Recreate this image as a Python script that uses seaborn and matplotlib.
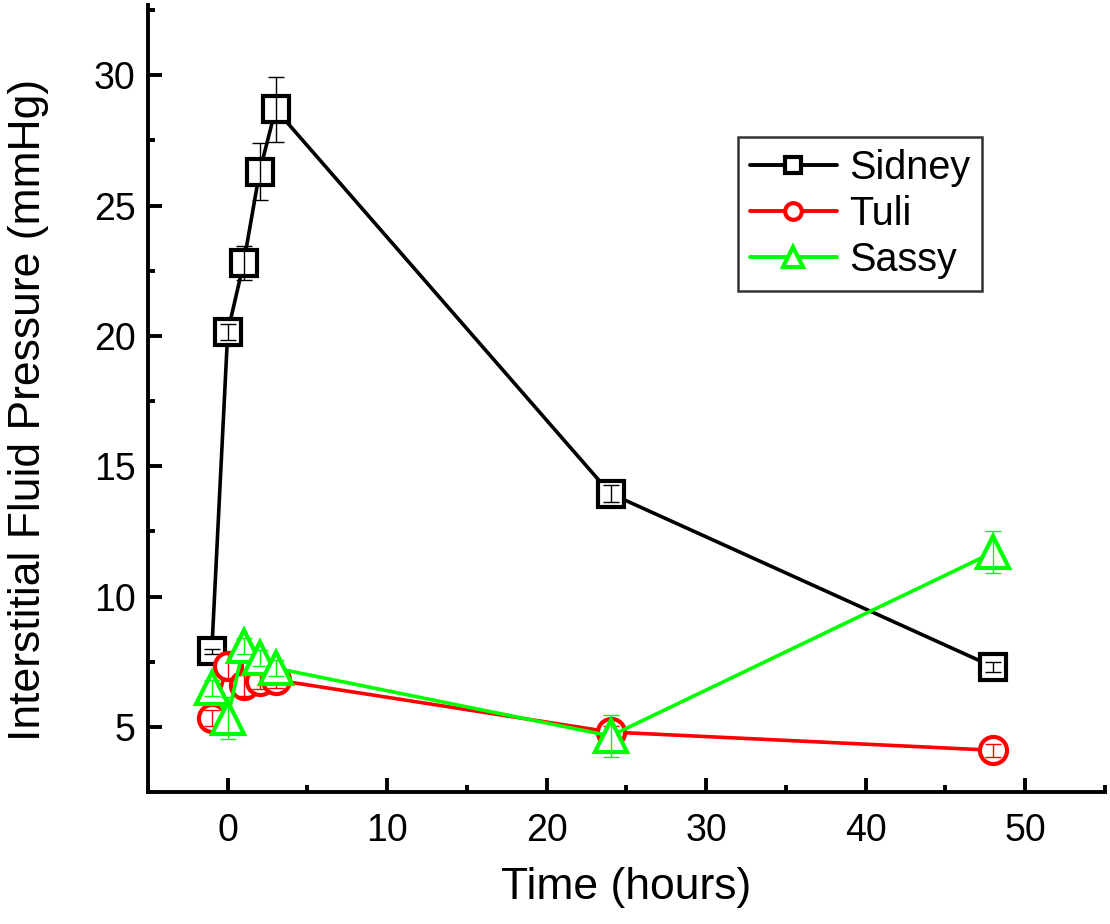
import matplotlib
matplotlib.use("Agg")
import matplotlib.pyplot as plt
import seaborn as sns
import pandas as pd
import numpy as np
from matplotlib.ticker import MultipleLocator

time_h = [-1, 0, 1, 2, 3, 24, 48]
sidney = [7.9, 20.15, 22.8, 26.3, 28.7, 13.95, 7.3]
sidney_err = [0.1, 0.3, 0.65, 1.1, 1.25, 0.33, 0.2]
tuli = [5.35, 7.35, 6.6, 6.75, 6.8, 4.8, 4.1]
tuli_err = [0.3, 0.5, 0.4, 0.3, 0.3, 0.25, 0.25]
sassy = [6.5, 5.35, 8.1, 7.65, 7.25, 4.65, 11.7]
sassy_err = [0.3, 0.8, 0.3, 0.3, 0.3, 0.8, 0.8]

series = [("Sidney", sidney, sidney_err, "black", "s", 18.5, 11),
          ("Tuli", tuli, tuli_err, "#FF0000", "o", 19.5, 12),
          ("Sassy", sassy, sassy_err, "#00FF00", "^", 23, 14)]

sns.set_theme(style="ticks")
plt.rcParams['font.family'] = ['Liberation Sans', 'DejaVu Sans']
for k in ["text.color", "axes.labelcolor", "xtick.color", "ytick.color",
          "axes.edgecolor"]:
    plt.rcParams[k] = "black"

fig = plt.figure(figsize=(11.1, 9.24), dpi=100)
ax = fig.add_axes([0.1333, 0.1429, 0.8622, 0.8517])

handles = []
for i, (name, vals, errs, col, mk, ms, lms) in enumerate(series):
    df = pd.DataFrame({"t": time_h, "v": vals})
    sns.lineplot(data=df, x="t", y="v", ax=ax, color=col, linewidth=2.6,
                 marker=mk, markersize=ms, markerfacecolor="white",
                 markeredgecolor=col, markeredgewidth=3.0, zorder=3 + i,
                 label=name, legend=False)
    ax.errorbar(time_h, vals, yerr=errs, fmt="none", ecolor=col,
                elinewidth=1.0, capsize=6, capthick=1.0, zorder=3.5 + i)
    h, = ax.plot([], [], color=col, linewidth=2.8, marker=mk,
                 markersize=lms, markerfacecolor="white",
                 markeredgecolor=col, markeredgewidth=3.0)
    handles.append(h)

ax.set_xlim(-5, 55)
ax.set_ylim(2.5, 32.7)
ax.xaxis.set_major_locator(MultipleLocator(10))
ax.xaxis.set_minor_locator(MultipleLocator(5))
ax.yaxis.set_major_locator(MultipleLocator(5))
ax.yaxis.set_minor_locator(MultipleLocator(2.5))
ax.set_yticks([5, 10, 15, 20, 25, 30])

for s in ["top", "right"]:
    ax.spines[s].set_visible(False)
for s in ["left", "bottom"]:
    ax.spines[s].set_linewidth(2.8)
    ax.spines[s].set_color("black")

ax.tick_params(axis="both", which="major", direction="in", length=10,
               width=2.8, labelsize=27, colors="black")
ax.tick_params(axis="both", which="minor", direction="in", length=5,
               width=2.8, colors="black")
ax.tick_params(axis="x", which="major", pad=15)
ax.tick_params(axis="y", which="major", pad=9)

ax.set_xlabel("Time (hours)", fontsize=32)
ax.set_ylabel("Interstitial Fluid Pressure (mmHg)", fontsize=32)
ax.xaxis.set_label_coords(0.4995, -0.122)
ax.xaxis.label.set_va("center")
ax.yaxis.set_label_coords(-0.125, 0.485)
ax.yaxis.label.set_va("center")

leg = ax.legend(handles, [s[0] for s in series], loc="upper left",
                bbox_to_anchor=(0.6165, 0.832), borderaxespad=0,
                fontsize=28.5, frameon=True, fancybox=False, handlelength=2.2,
                handletextpad=0.3, labelspacing=0.2, borderpad=0.3)
leg.get_frame().set_edgecolor("black")
leg.get_frame().set_linewidth(1.8)

fig.savefig("out.png", dpi=100)
